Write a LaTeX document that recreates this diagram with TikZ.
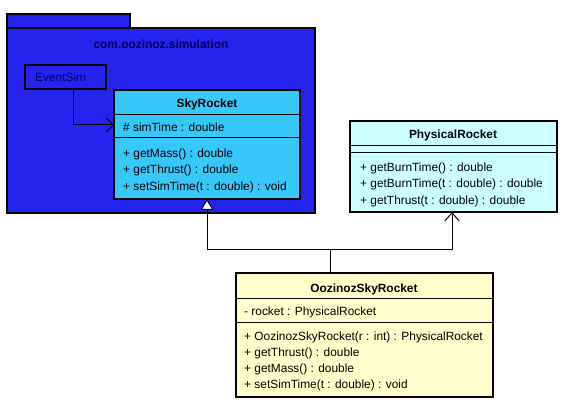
\documentclass[tikz,border=0pt]{standalone}
\usepackage{fontspec}
\setmainfont{Liberation Sans}
\usetikzlibrary{arrows.meta}
\definecolor{pkgblue}{HTML}{2424EE}
\definecolor{pkgtext}{HTML}{000066}
\definecolor{skycyan}{HTML}{36C8FA}
\definecolor{physcyan}{HTML}{CCFFFF}
\definecolor{oozyellow}{HTML}{FFFFCC}
\tikzset{
  boxline/.style={draw=black, line width=2pt, outer sep=0pt, inner sep=0pt, anchor=north west},
  sepline/.style={draw=black, line width=1pt},
  member/.style={anchor=base west, inner sep=0pt, yshift=-4.5pt, font=\fontsize{11.9}{14}\selectfont},
  title/.style={anchor=base, inner sep=0pt, yshift=-5pt, font=\fontsize{11.9}{14}\selectfont\bfseries},
  conn/.style={draw=black, line width=1pt},
}
\begin{document}
\begin{tikzpicture}[x=1pt,y=-1pt]
\useasboundingbox (0,0) rectangle (563,409);
% package
\path[fill=pkgblue, draw=black, line width=2pt] (7,14) rectangle (130,28);
\node[boxline, fill=pkgblue, minimum width=308pt, minimum height=185pt] (pkg) at (7,28) {};
\node[title, text=pkgtext] (pkgname) at (161,44) {com.oozinoz.simulation};
% EventSim
\node[boxline, fill=pkgblue, minimum width=81pt, minimum height=24pt] (ev) at (25,65) {};
\node[member, text=pkgtext] (evt) at (35,77) {EventSim};
% SkyRocket
\node[boxline, fill=skycyan, minimum width=186pt, minimum height=109pt] (sky) at (114,90) {};
\node[title] (skyt) at (207,103) {SkyRocket};
\draw[sepline] (114,115) -- (300,115);
\draw[sepline] (114,138) -- (300,138);
\node[member] (sky1) at (123,127) {\# simTime : double};
\node[member] (sky2) at (123,153) {+ getMass() : double};
\node[member] (sky3) at (123,169) {+ getThrust() : double};
\node[member] (sky4) at (123,186) {+ setSimTime(t : double) : void};
% PhysicalRocket
\node[boxline, fill=physcyan, minimum width=207pt, minimum height=91pt] (phys) at (350,121) {};
\node[title] (physt) at (453,134) {PhysicalRocket};
\draw[sepline] (350,146) -- (557,146);
\draw[sepline] (350,153) -- (557,153);
\node[member] (ph1) at (360,167) {+ getBurnTime() : double};
\node[member] (ph2) at (360,183) {+ getBurnTime(t : double) : double};
\node[member] (ph3) at (360,200) {+ getThrust(t : double) : double};
% OozinozSkyRocket
\node[boxline, fill=oozyellow, minimum width=257pt, minimum height=124pt] (ooz) at (236,273) {};
\node[title] (oozt) at (364,287) {OozinozSkyRocket};
\draw[sepline] (236,298) -- (493,298);
\draw[sepline] (236,322) -- (493,322);
\node[member] (oz1) at (244,311) {- rocket : PhysicalRocket};
\node[member] (oz2) at (244,336) {+ OozinozSkyRocket(r : int) : PhysicalRocket};
\node[member] (oz3) at (244,352) {+ getThrust() : double};
\node[member] (oz4) at (244,368) {+ getMass() : double};
\node[member] (oz5) at (244,384) {+ setSimTime(t : double) : void};
% connectors
\coordinate (e1) at (73,125);
\draw[conn, -{Straight Barb[length=7pt, width=14pt]}] (ev.south -| e1) -- (e1) -- (e1 -| sky.west);
\coordinate (j) at (330,250);
\coordinate (pa) at (452,250);
\draw[conn] (j |- ooz.north) -- (j);
\draw[conn, -{Triangle[open, fill=white, length=11pt, width=13pt]}] (j) -| (sky.south);
\draw[conn] (j) -- (pa);
\draw[conn, -{Straight Barb[length=8pt, width=14pt]}] (pa) -- (pa |- phys.south);
\end{tikzpicture}
\end{document}
